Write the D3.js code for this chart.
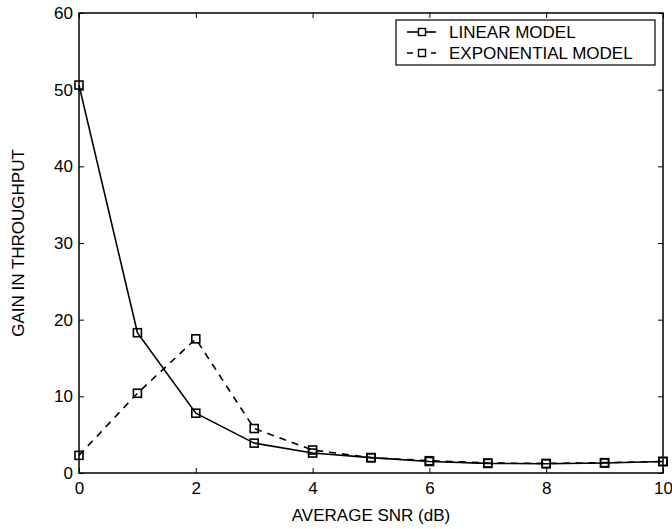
<!DOCTYPE html>
<html>
<head>
<meta charset="utf-8">
<script src="https://cdn.jsdelivr.net/npm/d3@7"></script>
<style>
  body { margin: 0; background: #fff; }
  text { font-family: "Liberation Sans", Arial, sans-serif; fill: #000; }
</style>
</head>
<body>
<svg id="chart"></svg>
<script>
// Chart data
const snr = [0, 1, 2, 3, 4, 5, 6, 7, 8, 9, 10];
const linearGain = [50.6, 18.3, 7.8, 3.9, 2.6, 2.0, 1.5, 1.25, 1.2, 1.3, 1.5];
const expGain = [2.3, 10.4, 17.5, 5.8, 3.0, 2.0, 1.6, 1.3, 1.25, 1.35, 1.5];
const xTicks = [0, 2, 4, 6, 8, 10];
const yTicks = [0, 10, 20, 30, 40, 50, 60];
const seriesNames = ['LINEAR MODEL', 'EXPONENTIAL MODEL'];

// Dimensions
const W = 672, H = 529;
const margin = { top: 13, right: 9, bottom: 56, left: 79 };
const width = W - margin.left - margin.right;
const height = H - margin.top - margin.bottom;
const fontSize = '17px';

const svg = d3.select('#chart')
  .attr('width', W)
  .attr('height', H);

const g = svg.append('g')
  .attr('transform', `translate(${margin.left}, ${margin.top})`);

// Scales
const x = d3.scaleLinear().domain([0, 10]).range([0, width]);
const y = d3.scaleLinear().domain([0, 60]).range([height, 0]);

// Axes (ticks inward, mirrored on top/right)
const axisStyle = sel => {
  sel.select('.domain').remove();
  sel.selectAll('line').attr('stroke', '#000').attr('stroke-width', 1);
  sel.selectAll('text').style('font-size', fontSize);
};

g.append('g')
  .attr('transform', `translate(0, ${height})`)
  .call(d3.axisBottom(x).tickValues(xTicks).tickSize(-5).tickPadding(9))
  .call(axisStyle);

g.append('g')
  .call(d3.axisLeft(y).tickValues(yTicks).tickSize(-5).tickPadding(6))
  .call(axisStyle);

g.append('g')
  .call(d3.axisTop(x).tickValues(xTicks).tickSize(-5).tickFormat(''))
  .call(axisStyle);

g.append('g')
  .attr('transform', `translate(${width}, 0)`)
  .call(d3.axisRight(y).tickValues(yTicks).tickSize(-5).tickFormat(''))
  .call(axisStyle);

// Frame
g.append('rect')
  .attr('width', width)
  .attr('height', height)
  .attr('fill', 'none')
  .attr('stroke', '#000')
  .attr('stroke-width', 1.5);

// Lines
const line = d3.line()
  .x((d, i) => x(snr[i]))
  .y(d => y(d));

const series = [
  { values: linearGain, dash: null },
  { values: expGain, dash: '7,6' }
];

series.forEach(s => {
  g.append('path')
    .datum(s.values)
    .attr('fill', 'none')
    .attr('stroke', '#000')
    .attr('stroke-width', 1.6)
    .attr('stroke-dasharray', s.dash)
    .attr('d', line);

  g.selectAll(null)
    .data(s.values)
    .enter()
    .append('rect')
    .attr('x', (d, i) => x(snr[i]) - 4)
    .attr('y', d => y(d) - 4)
    .attr('width', 8)
    .attr('height', 8)
    .attr('fill', 'none')
    .attr('stroke', '#000')
    .attr('stroke-width', 1.6);
});

// Legend
const legend = g.append('g')
  .attr('transform', `translate(${396 - margin.left}, ${20 - margin.top})`);

legend.append('rect')
  .attr('width', 259)
  .attr('height', 45)
  .attr('fill', '#fff')
  .attr('stroke', '#000')
  .attr('stroke-width', 1.2);

series.forEach((s, i) => {
  const ly = 12 + i * 21;
  legend.append('line')
    .attr('x1', 11).attr('x2', 40)
    .attr('y1', ly).attr('y2', ly)
    .attr('stroke', '#000')
    .attr('stroke-width', 1.6)
    .attr('stroke-dasharray', s.dash ? '6,6' : null);
  legend.append('rect')
    .attr('x', 22.5).attr('y', ly - 3.5)
    .attr('width', 7).attr('height', 7)
    .attr('fill', '#fff')
    .attr('stroke', '#000')
    .attr('stroke-width', 1.4);
  legend.append('text')
    .attr('x', 53)
    .attr('y', ly)
    .attr('dy', '0.35em')
    .style('font-size', fontSize)
    .text(seriesNames[i]);
});

// Axis labels
svg.append('text')
  .attr('x', margin.left + width / 2)
  .attr('y', 521)
  .attr('text-anchor', 'middle')
  .style('font-size', fontSize)
  .text('AVERAGE SNR (dB)');

svg.append('text')
  .attr('transform', `translate(24, ${margin.top + height / 2}) rotate(-90)`)
  .attr('text-anchor', 'middle')
  .style('font-size', fontSize)
  .text('GAIN IN THROUGHPUT');
</script>
</body>
</html>
